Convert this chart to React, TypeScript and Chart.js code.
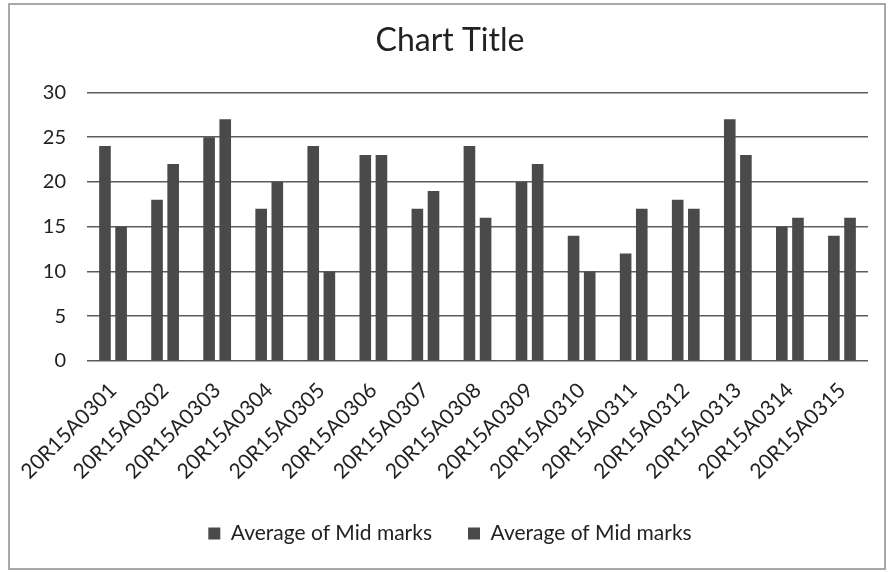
import React, { useEffect, useRef } from "react";
import { Chart, registerables } from "chart.js";

Chart.register(...registerables);

const categories = [
  "20R15A0301", "20R15A0302", "20R15A0303", "20R15A0304", "20R15A0305",
  "20R15A0306", "20R15A0307", "20R15A0308", "20R15A0309", "20R15A0310",
  "20R15A0311", "20R15A0312", "20R15A0313", "20R15A0314", "20R15A0315",
];
const seriesA = [24, 18, 25, 17, 24, 23, 17, 24, 20, 14, 12, 18, 27, 15, 14];
const seriesB = [15, 22, 27, 20, 10, 23, 19, 16, 22, 10, 17, 17, 23, 16, 16];
const seriesNames = ["Average of Mid marks", "Average of Mid marks"];
const yTicks = [0, 5, 10, 15, 20, 25, 30];
const chartTitle = "Chart Title";

const FONT = "Lato, 'Open Sans', sans-serif";
const TEXT = "#222222";
const BAR = "#4a4a4a";

export default function App() {
  const ref = useRef<HTMLCanvasElement>(null);

  useEffect(() => {
    if (!ref.current) return;
    const chart = new Chart(ref.current, {
      type: "bar",
      data: {
        labels: categories,
        datasets: [
          { label: seriesNames[0], data: seriesA, backgroundColor: BAR, categoryPercentage: 0.62, barPercentage: 0.72 },
          { label: seriesNames[1], data: seriesB, backgroundColor: BAR, categoryPercentage: 0.62, barPercentage: 0.72 },
        ],
      },
      options: {
        responsive: false,
        animation: false,
        layout: { padding: { left: 32, right: 20, top: 0, bottom: 18 } },
        plugins: {
          title: {
            display: true,
            text: chartTitle,
            color: TEXT,
            font: { family: FONT, size: 32, weight: "normal" },
            padding: { top: 21, bottom: 33 },
          },
          legend: {
            position: "bottom",
            labels: {
              color: TEXT,
              font: { family: FONT, size: 21 },
              boxWidth: 12,
              boxHeight: 12,
              padding: 36,
            },
          },
          tooltip: { enabled: false },
        },
        scales: {
          x: {
            grid: { display: false },
            border: { display: false },
            ticks: {
              autoSkip: false,
              minRotation: 45,
              maxRotation: 45,
              color: TEXT,
              font: { family: FONT, size: 21 },
              padding: 9,
            },
            afterFit: (s: any) => { s.height = 126; },
          },
          y: {
            min: 0,
            max: 30,
            afterBuildTicks: (s: any) => { s.ticks = yTicks.map((v) => ({ value: v })); },
            ticks: { color: TEXT, font: { family: FONT, size: 20 }, padding: 21 },
            grid: { color: "#5c5c5c", lineWidth: 1.5, drawTicks: false },
            border: { display: false },
            afterFit: (s: any) => { s.width = 55; },
          },
        },
      },
    });
    return () => chart.destroy();
  }, []);

  return (
    <div style={{ position: "fixed", left: 0, top: 0, width: 888, height: 572, background: "#fff" }}>
      <canvas ref={ref} width={888} height={572} style={{ position: "absolute", left: 0, top: 0 }} />
      <div
        style={{
          position: "absolute",
          left: 8,
          top: 3,
          width: 874,
          height: 563,
          border: "2px solid #a8a8a8",
          pointerEvents: "none",
        }}
      />
    </div>
  );
}
